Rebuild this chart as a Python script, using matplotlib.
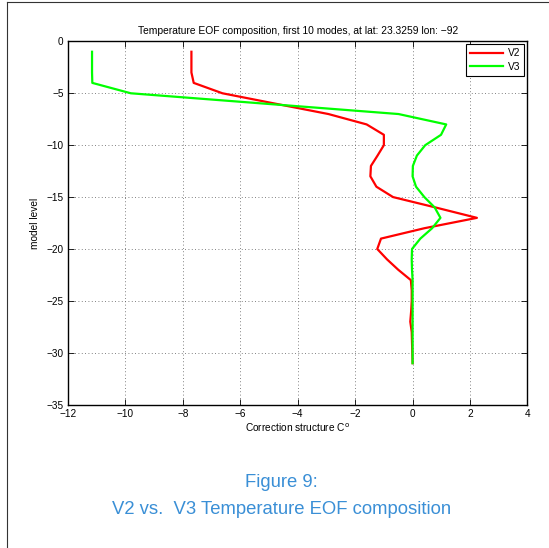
import matplotlib
matplotlib.use("Agg")
import matplotlib.pyplot as plt
from matplotlib.lines import Line2D
import numpy as np

plt.rcParams['font.family'] = ['Liberation Sans', 'DejaVu Sans']

levels = list(range(1, 32))
v2 = [-7.70, -7.70, -7.70, -7.62, -6.62, -4.78, -2.93, -1.60, -1.00, -1.00,
      -1.22, -1.45, -1.47, -1.26, -0.68, 0.80, 2.24, 0.41, -1.10, -1.23,
      -0.89, -0.50, -0.06, -0.03, -0.03, -0.05, -0.08, -0.03, -0.02, -0.01, 0.00]
v3 = [-11.16, -11.16, -11.16, -11.15, -9.81, -5.15, -0.49, 1.17, 0.99, 0.44,
      0.15, 0.01, 0.00, 0.12, 0.41, 0.77, 0.97, 0.68, 0.27, -0.02,
      -0.03, -0.02, 0.00, 0.00, 0.00, 0.00, 0.00, 0.00, 0.00, 0.00, 0.00]
series_names = ["V2", "V3"]
xticks = [-12, -10, -8, -6, -4, -2, 0, 2, 4]
yticks = [0, -5, -10, -15, -20, -25, -30, -35]
title = "Temperature EOF composition, first 10 modes, at lat: 23.3259 lon: \u221292"
xlabel = "Correction structure C$^{\\mathrm{o}}$"
ylabel = "model level"
caption1 = "Figure 9:"
caption2 = "V2 vs.  V3 Temperature EOF composition"

fig = plt.figure(figsize=(5.49, 5.48), dpi=100)
ax = fig.add_axes([0.1237, 0.2615, 0.8371, 0.663])

y = -np.array(levels)
ax.plot(v2, y, color='#ff0000', lw=1.6, label=series_names[0])
ax.plot(v3, y, color='#00ff00', lw=1.6, label=series_names[1])

ax.set_xlim(-12, 4)
ax.set_ylim(-35, 0)
ax.set_xticks(xticks)
ax.set_yticks(yticks)
ax.grid(True, linestyle=(0, (1, 3)), color='0.35', lw=0.6)
ax.tick_params(direction='in', top=True, right=True, labelsize=7.2, length=4, width=0.6, pad=3)
for s in ax.spines.values():
    s.set_linewidth(1.0)
ax.set_title(title, fontsize=7.4, pad=5)
ax.set_xlabel(xlabel, fontsize=7.3, labelpad=2)
ax.set_ylabel(ylabel, fontsize=7.3, labelpad=5)

leg = ax.legend(loc='upper right', fontsize=7.3, fancybox=False, framealpha=1,
                edgecolor='black', handlelength=3.2, borderaxespad=0.3,
                handletextpad=0.5, borderpad=0.4, labelspacing=0.3)
leg.get_frame().set_linewidth(0.8)

fig.text(0.512, 0.12, caption1, ha='center', va='center', fontsize=13.3, color='#3a8fd6')
fig.text(0.512, 0.071, caption2, ha='center', va='center', fontsize=13.3, color='#3a8fd6')

fig.add_artist(Line2D([7/549, 1.0], [1 - 2/548, 1 - 2/548], color='0.2', lw=0.8, transform=fig.transFigure))
fig.add_artist(Line2D([7/549, 7/549], [0, 1 - 2/548], color='0.2', lw=0.8, transform=fig.transFigure))

fig.savefig("out.png", dpi=100)
